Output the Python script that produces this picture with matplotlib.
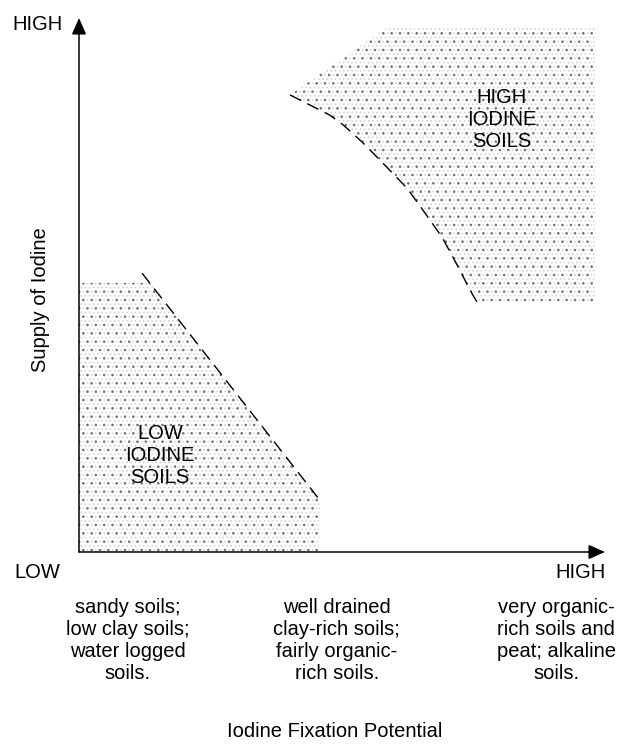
import matplotlib.pyplot as plt

plt.rcParams['font.family'] = ['Liberation Sans', 'DejaVu Sans']
plt.rcParams['hatch.linewidth'] = 0.6

# axes run 0..10 on both: x = iodine fixation potential, y = supply of iodine
# dashed boundary of the high iodine soils
high_x = [4.01, 4.39, 4.77, 5.02, 5.38, 5.78, 6.24, 6.54, 6.90, 7.24, 7.43, 7.62]
high_y = [8.56, 8.37, 8.18, 8.00, 7.68, 7.28, 6.81, 6.40, 5.90, 5.28, 4.91, 4.59]
# stippled high zone
high_zone_x = [5.86] + high_x[:-1] + [7.57, 9.81, 9.81]
high_zone_y = [9.83] + high_y[:-1] + [4.68, 4.68, 9.83]

# dashed boundary of the low iodine soils
low_x = [1.20, 4.58]
low_y = [5.22, 0.97]
# stippled low zone
low_zone_x = [0, 1.35, 4.58, 4.56, 0]
low_zone_y = [5.04, 5.04, 0.97, 0, 0]

soil_groups = ['sandy soils;\nlow clay soils;\nwater logged\nsoils.',
               'well drained\nclay-rich soils;\nfairly organic-\nrich soils.',
               'very organic-\nrich soils and\npeat; alkaline\nsoils.']
group_x = [0.93, 4.90, 9.07]

fig = plt.figure(figsize=(6.18, 7.44), dpi=100)
ax = fig.add_axes([79 / 618, 192 / 744, 526 / 618, 534 / 744])
ax.set_xlim(0, 10)
ax.set_ylim(0, 10)
ax.axis('off')

for zx, zy in [(high_zone_x, high_zone_y), (low_zone_x, low_zone_y)]:
    ax.fill(zx, zy, facecolor='white', edgecolor='#cfcfcf', hatch='....', lw=0)
    ax.fill(zx, zy, facecolor='none', edgecolor='#707070', hatch='..', lw=0)

ax.plot(high_x, high_y, color='black', lw=1.0, dashes=(9, 5))
ax.plot(low_x, low_y, color='black', lw=1.0, dashes=(9, 5))

arrow = dict(arrowstyle='-|>,head_length=0.5,head_width=0.22', color='black',
             lw=1.1, mutation_scale=20, shrinkA=0, shrinkB=0)
ax.annotate('', xy=(0, 10), xytext=(0, 0), arrowprops=arrow, annotation_clip=False)
ax.annotate('', xy=(10, 0), xytext=(0, 0), arrowprops=arrow, annotation_clip=False)

fs = 14.5
ax.text(-0.32, 9.87, 'HIGH', ha='right', va='center', fontsize=fs, clip_on=False)
ax.text(-0.80, -0.39, 'LOW', ha='center', va='center', fontsize=fs, clip_on=False)
ax.text(10.02, -0.39, 'HIGH', ha='right', va='center', fontsize=fs, clip_on=False)
ax.text(-0.74, 4.72, 'Supply of Iodine', rotation=90, ha='center', va='center',
        fontsize=fs, clip_on=False)

ax.text(8.04, 8.09, 'HIGH\nIODINE\nSOILS', ha='center', va='center', fontsize=fs,
        linespacing=1.2)
ax.text(1.54, 1.80, 'LOW\nIODINE\nSOILS', ha='center', va='center', fontsize=fs,
        linespacing=1.2)

for gx, label in zip(group_x, soil_groups):
    ax.text(gx, -0.86, label, ha='center', va='top', fontsize=fs,
            linespacing=1.2, clip_on=False)

ax.text(4.87, -3.36, 'Iodine Fixation Potential', ha='center', va='center',
        fontsize=fs, clip_on=False)

fig.savefig('out.png', dpi=100)
